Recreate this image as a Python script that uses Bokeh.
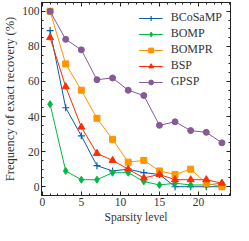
from bokeh.plotting import figure
from bokeh.models import (LinearAxis, SingleIntervalTicker, Legend, LegendItem, Range1d,
                          CustomJSTickFormatter)
from bokeh.embed import file_html
from bokeh.resources import INLINE

sparsity = [1, 3, 5, 7, 9, 11, 13, 15, 17, 19, 21, 23]
bcosamp = [89, 45, 29, 12, 9, 10, 8, 7, 0, 0, 0, 0]
bomp = [47, 9, 4, 4, 8, 8, 3, 1, 2, 1, 1, 2]
bompr = [100, 70, 55, 39, 27, 14, 15, 9, 7, 10, 2, 0]
bsp = [85, 57, 34, 19, 15, 10, 5, 7, 4, 4, 4, 2]
gpsp = [100, 84, 78, 61, 62, 55, 52, 35, 37, 32, 31, 25]

names = ["BCoSaMP", "BOMP", "BOMPR", "BSP", "GPSP"]
series = [bcosamp, bomp, bompr, bsp, gpsp]
colors = ["#0C5DA5", "#00B945", "#FF9500", "#FF2C00", "#845B97"]
markers = ["cross", "diamond", "square", "triangle", "circle"]
sizes = [7, 7, 6, 7, 6]

FONT = "Liberation Serif"

p = figure(width=233, height=225, output_backend="svg", toolbar_location=None,
           x_range=Range1d(-0.1, 24.1), y_range=Range1d(-5, 105))
p.min_border_left = 0
p.min_border_right = 3
p.min_border_top = 2
p.min_border_bottom = 0
p.xgrid.visible = False
p.ygrid.visible = False
p.outline_line_color = "#222222"
p.outline_line_width = 1
p.background_fill_color = "white"
p.border_fill_color = "white"


def style(ax, ticker, labels=True, label_size="12px"):
    ax.ticker = ticker
    ax.major_tick_in = 4
    ax.major_tick_out = 0
    ax.minor_tick_in = 2
    ax.minor_tick_out = 0
    ax.axis_line_color = "#222222"
    ax.major_tick_line_color = "#222222"
    ax.minor_tick_line_color = "#222222"
    if labels:
        ax.major_label_text_font = FONT
        ax.major_label_text_font_size = "11.5px"
        ax.major_label_text_color = "#333333"
        ax.major_label_standoff = 2
        ax.axis_label_text_font = FONT
        ax.axis_label_text_font_size = label_size
        ax.axis_label_text_font_style = "normal"
        ax.axis_label_text_color = "#333333"
        ax.axis_label_standoff = 2
    else:
        ax.formatter = CustomJSTickFormatter(code="return ''")
        ax.major_label_text_font_size = "1px"
        ax.major_label_standoff = 0


style(p.xaxis[0], SingleIntervalTicker(interval=5, num_minor_ticks=5), label_size="11.5px")
style(p.yaxis[0], SingleIntervalTicker(interval=20, num_minor_ticks=4), label_size="12.5px")
p.xaxis[0].axis_label = "Sparsity level"
p.yaxis[0].axis_label = "Frequency of exact recovery (%)"

top = LinearAxis()
style(top, SingleIntervalTicker(interval=5, num_minor_ticks=5), labels=False)
p.add_layout(top, "above")
right = LinearAxis()
style(right, SingleIntervalTicker(interval=20, num_minor_ticks=4), labels=False)
p.add_layout(right, "right")

items = []
for name, ys, c, m, s in zip(names, series, colors, markers, sizes):
    ln = p.line(sparsity, ys, line_color=c, line_width=1)
    if m == "cross":
        sc = p.scatter(sparsity, ys, marker=m, size=s, line_color=c, line_width=1.2)
    else:
        sc = p.scatter(sparsity, ys, marker=m, size=s, fill_color=c, line_color=c)
    items.append(LegendItem(label=name, renderers=[ln, sc]))

legend = Legend(items=items, location="top_right")
legend.border_line_alpha = 0
legend.background_fill_alpha = 0
legend.label_text_font = FONT
legend.label_text_font_size = "12px"
legend.label_text_color = "#333333"
legend.glyph_width = 24
legend.glyph_height = 12
legend.label_height = 12
legend.label_standoff = 8
legend.spacing = 1
legend.padding = 4
legend.margin = 4
p.add_layout(legend, "center")

open("out.html", "w").write(file_html(p, INLINE))
